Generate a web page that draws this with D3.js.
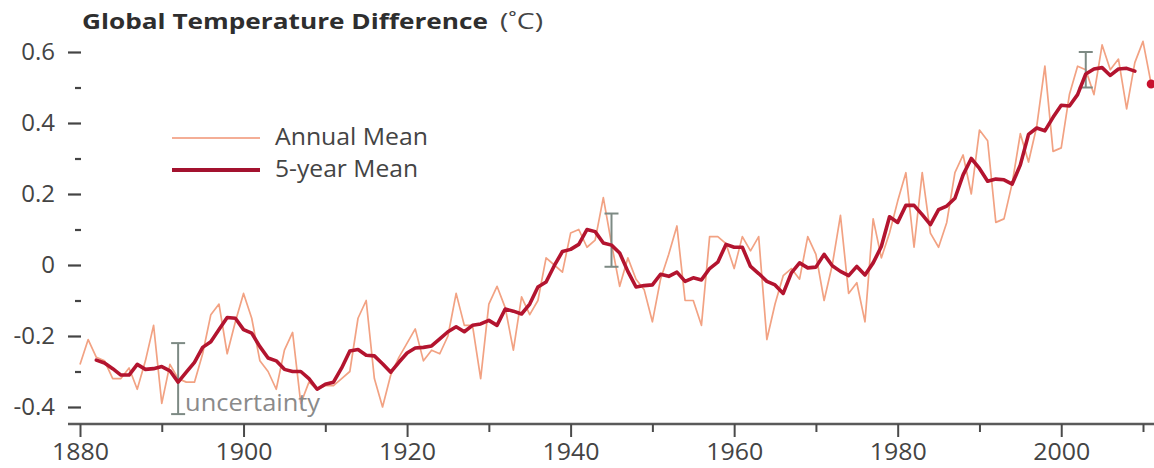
<!DOCTYPE html>
<html><head><meta charset="utf-8">
<script src="https://cdn.jsdelivr.net/npm/d3@7"></script>
<style>body{margin:0;background:#fff} svg{display:block}</style>
</head><body>
<svg id="chart" width="1154" height="468"></svg>
<script>
// ---- data ----
const annualStartYear = 1880;
const annualMean = [
 -0.28,-0.21,-0.26,-0.27,-0.32,-0.32,-0.29,-0.35,-0.27,-0.17,
 -0.39,-0.28,-0.32,-0.33,-0.33,-0.25,-0.14,-0.11,-0.25,-0.16,
 -0.08,-0.15,-0.27,-0.30,-0.35,-0.24,-0.19,-0.39,-0.33,-0.35,
 -0.34,-0.34,-0.32,-0.30,-0.15,-0.10,-0.32,-0.40,-0.31,-0.26,
 -0.22,-0.18,-0.27,-0.24,-0.25,-0.20,-0.08,-0.17,-0.17,-0.32,
 -0.11,-0.06,-0.12,-0.24,-0.09,-0.14,-0.10,0.02,0.00,-0.02,
 0.09,0.10,0.05,0.07,0.19,0.06,-0.06,0.02,-0.04,-0.07,
 -0.16,-0.04,0.03,0.11,-0.10,-0.10,-0.17,0.08,0.08,0.06,
 -0.01,0.08,0.04,0.08,-0.21,-0.11,-0.03,-0.01,-0.04,0.08,
 0.03,-0.10,0.00,0.14,-0.08,-0.05,-0.16,0.13,0.02,0.09,
 0.18,0.26,0.05,0.26,0.09,0.05,0.12,0.26,0.31,0.20,
 0.38,0.35,0.12,0.13,0.23,0.37,0.29,0.39,0.56,0.32,
 0.33,0.48,0.56,0.55,0.48,0.62,0.55,0.58,0.44,0.57,
 0.63,0.51
];
const fiveYearStartYear = 1882;
const fiveYearMean = [
 -0.268,-0.276,-0.292,-0.310,-0.310,-0.280,-0.294,-0.292,-0.286,-0.298,
 -0.330,-0.302,-0.274,-0.232,-0.216,-0.182,-0.148,-0.150,-0.182,-0.192,
 -0.230,-0.262,-0.270,-0.294,-0.300,-0.300,-0.320,-0.350,-0.336,-0.330,
 -0.290,-0.242,-0.238,-0.254,-0.256,-0.278,-0.302,-0.274,-0.248,-0.234,
 -0.232,-0.228,-0.208,-0.188,-0.174,-0.188,-0.170,-0.166,-0.156,-0.170,
 -0.124,-0.130,-0.138,-0.110,-0.062,-0.048,-0.002,0.038,0.044,0.058,
 0.100,0.094,0.062,0.056,0.034,-0.018,-0.062,-0.058,-0.056,-0.026,
 -0.032,-0.020,-0.046,-0.036,-0.042,-0.010,0.008,0.058,0.050,0.050,
 -0.004,-0.024,-0.046,-0.056,-0.080,-0.022,0.006,-0.008,-0.006,0.030,
 -0.002,-0.018,-0.030,-0.004,-0.028,0.006,0.052,0.136,0.120,0.168,
 0.168,0.142,0.114,0.156,0.166,0.188,0.254,0.300,0.272,0.236,
 0.242,0.240,0.228,0.282,0.368,0.386,0.378,0.416,0.450,0.448,
 0.480,0.538,0.552,0.556,0.534,0.552,0.554,0.546
];
const yTickValues = [-0.4, -0.2, 0, 0.2, 0.4, 0.6];
const yTickLabels = ["-0.4", "-0.2", "0", "0.2", "0.4", "0.6"];
const yMinorTicks = [-0.3, -0.1, 0.1, 0.3, 0.5];
const xTickYears = [1880, 1900, 1920, 1940, 1960, 1980, 2000];
const xTickLabels = ["1880", "1900", "1920", "1940", "1960", "1980", "2000"];
const xMinorYears = [1890, 1910, 1930, 1950, 1970, 1990, 2010];
const uncertaintyYears = [1892, 1945, 2003];
const uncertaintyLow = [-0.42, -0.005, 0.50];
const uncertaintyHigh = [-0.22, 0.145, 0.60];
const legendLabels = ["Annual Mean", "5-year Mean"];
const titleText = "Global Temperature Difference";
const unitText = "(\u02DAC)";
const uncertaintyText = "uncertainty";

// ---- build ----
const annual = annualMean.map((v, i) => ({year: annualStartYear + i, value: v}));
const five = fiveYearMean.map((v, i) => ({year: fiveYearStartYear + i, value: v}));

const FONT = "'Open Sans', 'Noto Sans', sans-serif";
const svg = d3.select("#chart");
const x = d3.scaleLinear().domain([1880, 2010]).range([80, 1143]);
const y = d3.scaleLinear().domain([-0.4, 0.6]).range([407, 52]);

// title
svg.append("text").attr("x", 82).attr("y", 29)
  .attr("font-family", FONT).attr("font-weight", 700).attr("font-size", 22)
  .attr("fill", "#2e2e2e").attr("textLength", 406).attr("lengthAdjust", "spacingAndGlyphs")
  .text(titleText);
svg.append("text").attr("x", 500).attr("y", 29)
  .attr("font-family", FONT).attr("font-size", 22)
  .attr("fill", "#444").attr("textLength", 43).attr("lengthAdjust", "spacingAndGlyphs")
  .text(unitText);

// y axis (major)
const yAxis = svg.append("g").attr("transform", "translate(81,0)")
  .call(d3.axisLeft(y).tickValues(yTickValues).tickSize(13).tickPadding(13)
        .tickFormat((d, i) => yTickLabels[i]));
yAxis.select(".domain").remove();
yAxis.selectAll(".tick line").attr("stroke", "#444").attr("stroke-width", 2.2);
yAxis.selectAll(".tick text").attr("font-family", FONT).attr("font-size", 24)
  .attr("fill", "#444").attr("dy", "0.33em");
// y axis (minor)
const yMinor = svg.append("g").attr("transform", "translate(81,0)")
  .call(d3.axisLeft(y).tickValues(yMinorTicks).tickSize(6).tickFormat(""));
yMinor.select(".domain").remove();
yMinor.selectAll(".tick line").attr("stroke", "#444").attr("stroke-width", 2.2);

// x axis
svg.append("line").attr("x1", 68).attr("x2", 1154).attr("y1", 424).attr("y2", 424)
  .attr("stroke", "#5a5a5a").attr("stroke-width", 2.5);
const xAxis = svg.append("g").attr("transform", "translate(0,424)")
  .call(d3.axisBottom(x).tickValues(xTickYears).tickSize(13)
        .tickFormat((d, i) => xTickLabels[i]));
xAxis.select(".domain").remove();
xAxis.selectAll(".tick line").attr("stroke", "#4a4a4a").attr("stroke-width", 2);
xAxis.selectAll(".tick text").attr("font-family", FONT).attr("font-size", 24)
  .attr("fill", "#444").attr("y", 36).attr("dy", 0)
  .attr("textLength", 57).attr("lengthAdjust", "spacingAndGlyphs");
const xMinor = svg.append("g").attr("transform", "translate(0,424)")
  .call(d3.axisBottom(x).tickValues(xMinorYears).tickSize(8).tickFormat(""));
xMinor.select(".domain").remove();
xMinor.selectAll(".tick line").attr("stroke", "#4a4a4a").attr("stroke-width", 2);

// annual line
const line = d3.line().x(d => x(d.year)).y(d => y(d.value));
svg.append("path").datum(annual).attr("d", line)
  .attr("fill", "none").attr("stroke", "#f2a283").attr("stroke-width", 1.7)
  .attr("stroke-linejoin", "round");

// uncertainty bars
const unc = uncertaintyYears.map((yr, i) => ({year: yr, lo: uncertaintyLow[i], hi: uncertaintyHigh[i]}));
const ug = svg.append("g").attr("stroke", "#7d8a84").attr("stroke-width", 2);
ug.selectAll("line.v").data(unc).join("line").attr("class", "v")
  .attr("x1", d => x(d.year)).attr("x2", d => x(d.year))
  .attr("y1", d => y(d.lo)).attr("y2", d => y(d.hi));
ug.selectAll("line.t").data(unc).join("line").attr("class", "t")
  .attr("x1", d => x(d.year) - 7).attr("x2", d => x(d.year) + 7)
  .attr("y1", d => y(d.hi)).attr("y2", d => y(d.hi));
ug.selectAll("line.b").data(unc).join("line").attr("class", "b")
  .attr("x1", d => x(d.year) - 7).attr("x2", d => x(d.year) + 7)
  .attr("y1", d => y(d.lo)).attr("y2", d => y(d.lo));

// 5-year mean
svg.append("path").datum(five).attr("d", line)
  .attr("fill", "none").attr("stroke", "#b3142f").attr("stroke-width", 3.6)
  .attr("stroke-linejoin", "round").attr("stroke-linecap", "round");

// last annual point dot
const last = annual[annual.length - 1];
svg.append("circle").attr("cx", x(last.year)).attr("cy", y(last.value)).attr("r", 4.5)
  .attr("fill", "#c8102e");

// uncertainty label
svg.append("text").attr("x", x(uncertaintyYears[0]) + 7).attr("y", 411)
  .attr("font-family", FONT).attr("font-size", 23).attr("fill", "#8a8a8a")
  .attr("textLength", 135).attr("lengthAdjust", "spacingAndGlyphs")
  .text(uncertaintyText);

// legend
const legend = svg.append("g");
const legendStyles = [
  {stroke: "#f4ae96", width: 2, ly: 138, ty: 145, tl: 153},
  {stroke: "#a3122f", width: 4, ly: 170, ty: 177, tl: 143}
];
legendLabels.forEach((lab, i) => {
  const s = legendStyles[i];
  legend.append("line").attr("x1", 172).attr("x2", 260).attr("y1", s.ly).attr("y2", s.ly)
    .attr("stroke", s.stroke).attr("stroke-width", s.width);
  legend.append("text").attr("x", 275).attr("y", s.ty)
    .attr("font-family", FONT).attr("font-size", 23).attr("fill", "#444")
    .attr("textLength", s.tl).attr("lengthAdjust", "spacingAndGlyphs").text(lab);
});
</script>
</body></html>
